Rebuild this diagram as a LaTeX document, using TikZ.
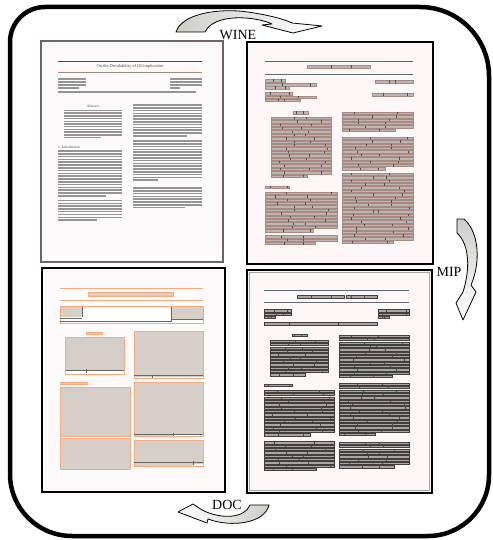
\documentclass[tikz,border=0pt]{standalone}
\usepackage{fontspec}
\setmainfont{Liberation Serif}

\definecolor{tlframe}{RGB}{112,100,97}
\definecolor{pagebg}{RGB}{252,250,250}
\definecolor{pinkbg}{RGB}{253,248,247}
\definecolor{rulegray}{RGB}{95,105,115}
\definecolor{rulebrown}{RGB}{170,135,125}
\definecolor{segfill}{RGB}{188,180,178}
\definecolor{segdraw}{RGB}{168,138,130}
\definecolor{darkseg}{RGB}{172,164,160}
\definecolor{orangeline}{RGB}{244,172,128}
\definecolor{blfill}{RGB}{214,206,201}
\definecolor{arrowgray}{RGB}{205,205,200}

\tikzset{
  frame/.style={line width=4.5pt, line join=round, line cap=round},
  pageframe/.style={line width=1.5pt},
  txtline/.style={line width=1.5pt, black!42},
  tinytext/.style={font=\fontsize{3.6}{4}\selectfont, inner sep=0pt, black!70},
  trseg/.style={fill=segfill, draw=segdraw, line width=0.3pt},
  brseg/.style={fill=darkseg, draw=black!75, line width=0.4pt},
  segtick/.style={black!70, line width=0.5pt},
  blbox/.style={fill=blfill, draw=orangeline, line width=0.8pt},
  blrule/.style={orangeline, line width=1pt},
  blbar/.style={black!60, line width=1pt},
  bigarrow/.style={draw=black, line width=0.8pt, line join=round},
  lbl/.style={font=\fontsize{14}{16}\selectfont, inner sep=0pt}
}

% plain grey text lines (first page)
\newcommand\txtblock[5]{%
  \foreach \i in {1,...,#4}{%
    \pgfmathsetmacro\yy{#3+(\i-1)*#5}%
    \pgfmathsetmacro\xe{and(\i==#4,#4>1) ? #1+(0.3+0.5*rnd)*(#2-#1) : #2}%
    \draw[txtline] (#1,\yy) -- (\xe,\yy);
  }}

% boxed text lines (segmented pages)
\newcommand\segblock[6]{%
  \foreach \i in {1,...,#4}{%
    \pgfmathsetmacro\yy{#3+(\i-1)*#5}%
    \pgfmathsetmacro\xe{and(\i==#4,#4>1) ? #1+(0.3+0.5*rnd)*(#2-#1) : #2}%
    \draw[#6] (#1,\yy) rectangle (\xe,\yy+2.3);
    \pgfmathsetmacro\ta{#1+(0.1+0.35*rnd)*(\xe-#1)}%
    \pgfmathsetmacro\tb{#1+(0.5+0.45*rnd)*(\xe-#1)}%
    \draw[segtick] (\ta,\yy) -- (\ta,\yy+2.3) (\tb,\yy) -- (\tb,\yy+2.3);
  }}

\begin{document}
\begin{tikzpicture}[x=1pt,y=-1pt]
\useasboundingbox (0,0) rectangle (492,540);
\pgfmathsetseed{12}

% outer frame
\draw[frame] (250,7) [rounded corners=69pt] -| (489,270) [rounded corners=61pt] |- (250,536)
  [rounded corners=62pt] -| (10,270) [rounded corners=35pt] |- (250,7);

% page 1: original paper
\fill[pagebg] (41,41) rectangle (223,262);
\draw[pageframe, tlframe] (41,41) rectangle (223,262);
\draw[black!70, line width=0.6pt] (58,61) -- (202,61);
\node[tinytext, font=\fontsize{4.4}{5}\selectfont] (title) at (130,66.7) {On the Decidability of OI-implication};
\draw[rulebrown, line width=0.6pt] (58,72.3) -- (202,72.3);
\txtblock{58}{86}{79}{4}{3}
\txtblock{170}{202}{79}{4}{3}
\draw[txtline] (58,92) -- (196,92);
\node[tinytext] (abstract) at (93,106.5) {Abstract};
\txtblock{64}{122}{110.5}{11}{2.7}
\node[tinytext, anchor=west] (intro) at (58,147) {1. Introduction};
\txtblock{58}{122}{151}{17}{2.8}
\txtblock{58}{122}{200.5}{8}{2.8}
\txtblock{133}{202}{105}{12}{2.8}
\txtblock{133}{202}{141}{15}{2.8}
\txtblock{133}{202}{188}{8}{2.8}

% page 2: WINE
\fill[pinkbg] (247,42) rectangle (433,264);
\draw[pageframe] (247,42) rectangle (433,264);
\draw[rulegray, line width=0.9pt] (265,61) -- (413,61);
\segblock{307}{370}{65.5}{1}{3.4}{trseg}
\draw[rulegray, line width=0.9pt] (265,74.3) -- (413,74.3);
\segblock{265}{285}{79.5}{1}{3}{trseg}
\segblock{265}{316}{83.5}{2}{3}{trseg}
\segblock{265}{292}{92.5}{1}{3}{trseg}
\segblock{265}{316}{96}{2}{3}{trseg}
\segblock{375}{413}{80.5}{1}{3}{trseg}
\segblock{372}{413}{93.5}{1}{3}{trseg}
\segblock{293}{308}{111.5}{1}{3}{trseg}
\segblock{271}{331}{117}{18}{3.4}{trseg}
\segblock{265}{289}{186}{1}{3}{trseg}
\segblock{265}{337}{192}{12}{3.4}{trseg}
\segblock{265}{337}{235.5}{3}{3.4}{trseg}
\segblock{342}{413}{112}{6}{3.4}{trseg}
\segblock{342}{413}{137}{10}{3.4}{trseg}
\segblock{342}{413}{173}{21}{3.4}{trseg}

% page 3: DOC
\fill[pagebg] (42,268) rectangle (225,492);
\draw[pageframe] (42,268) rectangle (225,492);
\draw[blrule] (60,288.3) -- (203,288.3);
\draw[blbox] (88,292.7) rectangle (173,296.7);
\draw[blrule] (60,300) -- (203,300);
\draw[blrule, fill=white] (60,306.7) rectangle (203,323.3);
\fill[blfill] (60.5,307.2) rectangle (82,317);
\fill[blfill] (171.5,307.2) rectangle (202.5,319);
\draw[blbar] (82,307) -- (82,317) (60,318.5) -- (82,318.5) (60,321.5) -- (171.5,321.5)
  (171.5,307) -- (171.5,322) (171.5,319.3) -- (203,319.3);
\draw[blbox] (86,332) rectangle (102.7,334.5);
\draw[blbox] (65.7,337.7) rectangle (124.3,374.3);
\fill[white] (66.2,371.2) rectangle (123.8,373.8);
\draw[blbar] (65.7,370.5) -- (124.3,370.5) (86.7,369) -- (86.7,372.5);
\draw[blbox] (134,331.7) rectangle (203.3,378.3);
\fill[white] (134.5,376.5) rectangle (202.8,377.8);
\draw[blbar] (134,375.7) -- (203.3,375.7) (152,374.5) -- (152,378);
\draw[blbox] (60,382) rectangle (87.3,384);
\draw[blbox] (60,387.7) rectangle (130.7,436.7);
\draw[blbox] (60,438.3) rectangle (130.7,469);
\draw[blbox] (134,382.3) rectangle (203.3,436.7);
\fill[white] (173,434.8) rectangle (202.8,436.2);
\draw[blbar] (134,434) -- (203.3,434) (173,432.5) -- (173,436);
\draw[blbox] (134,440) rectangle (203.3,466.7);
\fill[white] (193,463.5) rectangle (202.8,466.2);
\draw[blbar] (134,462.7) -- (203.3,462.7) (193,461) -- (193,465);

% page 4: MIP
\fill[pinkbg] (247,270) rectangle (432,493);
\draw[pageframe] (247,270) rectangle (432,493);
\draw[black!35, line width=0.6pt] (249.5,272.5) rectangle (429.5,490.5);
\draw[rulegray, line width=0.9pt] (264,290.7) -- (409,290.7);
\segblock{297}{344}{295.5}{1}{3}{brseg}
\segblock{346}{377}{295.5}{1}{3}{brseg}
\draw[rulegray, line width=0.9pt] (264,302.7) -- (409,302.7);
\segblock{264}{291}{309.5}{3}{3.4}{brseg}
\segblock{378}{409}{309.5}{3}{3.4}{brseg}
\segblock{264}{377}{322.5}{1}{3}{brseg}
\segblock{292}{307}{334}{1}{3}{brseg}
\segblock{270}{328}{340}{11}{3.35}{brseg}
\segblock{264}{292}{384}{1}{3}{brseg}
\segblock{264}{334}{390}{14}{3.35}{brseg}
\segblock{264}{334}{441.5}{9}{3.35}{brseg}
\segblock{339}{409}{335}{13}{3.35}{brseg}
\segblock{339}{409}{383}{16}{3.35}{brseg}
\segblock{339}{409}{442}{8}{3.35}{brseg}

% curved arrows
\draw[bigarrow, left color=arrowgray, right color=white]
  (176,32) .. controls (182,13) and (220,8) .. (248,12)
  .. controls (268,15) and (284,19) .. (292,23) -- (322,26) -- (293,33) -- (262,25) -- (272,24)
  .. controls (255,16) and (214,13) .. (205,32) -- cycle;
\draw[bigarrow, top color=arrowgray, bottom color=white]
  (457,219) -- (464,219) .. controls (479,232) and (481,262) .. (471,285)
  -- (476,292) -- (463,320) -- (456,303) -- (463,292)
  .. controls (470,270) and (470,245) .. (457,233) -- cycle;
\draw[bigarrow, right color=arrowgray, left color=white]
  (269,505) .. controls (265,523) and (232,528) .. (208,519) -- (207,523)
  -- (178,512) -- (193,504) -- (202,510)
  .. controls (222,520) and (245,518) .. (250,505) -- cycle;

% labels
\node[lbl] (wine) at (238,35) {WINE};
\node[lbl] (mip) at (449,272) {MIP};
\node[lbl] (doc) at (227,505) {DOC};
\end{tikzpicture}
\end{document}
